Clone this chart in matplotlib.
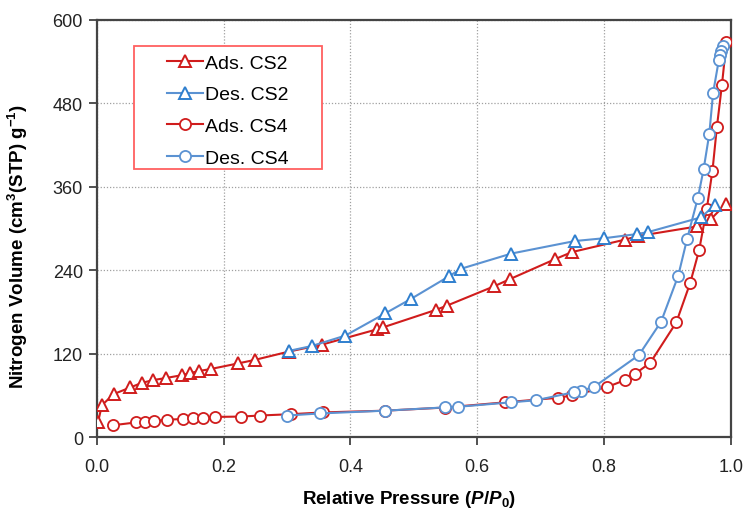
import matplotlib
matplotlib.use("Agg")
import matplotlib.pyplot as plt
from matplotlib.patches import Rectangle

plt.rcParams['font.family'] = ['Liberation Sans', 'DejaVu Sans']
plt.rcParams['mathtext.fontset'] = 'custom'
plt.rcParams['mathtext.rm'] = 'Liberation Sans:bold'
plt.rcParams['mathtext.it'] = 'Liberation Sans:italic:bold'
plt.rcParams['mathtext.bf'] = 'Liberation Sans:bold'

# Ads. CS2
ads_cs2_x = [0.002, 0.008, 0.027, 0.053, 0.071, 0.089, 0.109, 0.134, 0.147, 0.161,
             0.180, 0.223, 0.249, 0.303, 0.355, 0.442, 0.452, 0.535, 0.552, 0.627,
             0.651, 0.723, 0.749, 0.833, 0.853, 0.947, 0.969, 0.992]
ads_cs2_y = [22, 46, 62, 71.5, 78, 82, 85, 89, 92, 95,
             98, 106, 111, 123, 133, 155, 158, 183, 189, 217,
             227, 256, 266, 284, 289, 303, 314, 335]
# Des. CS2
des_cs2_x = [0.975, 0.953, 0.870, 0.852, 0.800, 0.754, 0.654, 0.574, 0.555, 0.496,
             0.455, 0.392, 0.339, 0.303]
des_cs2_y = [334, 316, 295, 292, 286, 282, 264, 242, 231, 199,
             178, 146, 131, 124]
# Ads. CS4
ads_cs4_x = [0.025, 0.061, 0.076, 0.090, 0.110, 0.136, 0.152, 0.168, 0.186, 0.227,
             0.257, 0.307, 0.357, 0.455, 0.549, 0.644, 0.727, 0.750, 0.805, 0.833,
             0.849, 0.873, 0.914, 0.936, 0.950, 0.962, 0.971, 0.978, 0.986, 0.993]
ads_cs4_y = [17, 21, 22, 23, 25, 26, 27, 27.5, 29, 29.5,
             31, 33, 35.5, 38, 42.5, 50, 56.5, 60, 72, 82,
             91, 107, 165, 222, 269, 328, 383, 446, 507, 568]
# Des. CS4
des_cs4_x = [0.988, 0.985, 0.983, 0.981, 0.972, 0.966, 0.957, 0.948, 0.931, 0.917,
             0.890, 0.855, 0.784, 0.763, 0.752, 0.693, 0.653, 0.570, 0.549, 0.455,
             0.352, 0.300]
des_cs4_y = [563, 556, 549, 542, 495, 436, 385, 344, 285, 232,
             166, 118, 72, 66.5, 64.5, 53, 50, 43.6, 42.7, 38,
             34, 31]

x_ticks = [0.0, 0.2, 0.4, 0.6, 0.8, 1.0]
y_ticks = [0, 120, 240, 360, 480, 600]

red = '#d01c1c'
blue_t = '#2f7fce'
blue_c = '#5b92d2'

fig = plt.figure(figsize=(7.45, 5.10), dpi=100)
ax = fig.add_axes([0.130, 0.141, 0.851, 0.818])

ax.plot(ads_cs2_x, ads_cs2_y, color=red, lw=1.5, marker='^', ms=8.5,
        mfc='white', mec=red, mew=1.4, label='Ads. CS2', zorder=3)
ax.plot(des_cs2_x, des_cs2_y, color=blue_c, lw=1.5, marker='^', ms=8.5,
        mfc='white', mec=blue_t, mew=1.4, label='Des. CS2', zorder=4)
ax.plot(ads_cs4_x, ads_cs4_y, color=red, lw=1.5, marker='o', ms=8,
        mfc='white', mec=red, mew=1.3, label='Ads. CS4', zorder=3)
ax.plot(des_cs4_x, des_cs4_y, color=blue_c, lw=1.5, marker='o', ms=8,
        mfc='white', mec=blue_c, mew=1.3, label='Des. CS4', zorder=4)

ax.set_xlim(0, 1.0)
ax.set_ylim(0, 600)
ax.set_xticks(x_ticks)
ax.set_xticklabels([f'{v:.1f}' for v in x_ticks])
ax.set_yticks(y_ticks)
ax.set_yticklabels([str(v) for v in y_ticks])
ax.tick_params(direction='out', length=6, width=1.2, labelsize=13, colors='#333333',
               labelcolor='#222222')
ax.tick_params(axis='x', pad=9)
ax.tick_params(axis='y', pad=4)
ax.grid(True, color='#a0a0a0', linestyle=(0, (1, 1.5)), linewidth=0.9)
ax.set_axisbelow(True)
for s in ax.spines.values():
    s.set_color('#444444')
    s.set_linewidth(1.6)

ax.set_xlabel(r'Relative Pressure ($P/P_{\mathrm{0}}$)', fontsize=13.5, fontweight='bold')
ax.set_ylabel(r'Nitrogen Volume (cm$^{\mathrm{3}}$(STP) g$^{\mathrm{-1}}$)', fontsize=13.5,
              fontweight='bold')
ax.xaxis.set_label_coords(0.492, -0.123)
ax.yaxis.set_label_coords(-0.106, 0.46)

leg = ax.legend(loc='upper left', bbox_to_anchor=(0.110, 0.918), fontsize=14,
                frameon=False, borderpad=0, handlelength=1.85,
                handletextpad=0.12, labelspacing=0.72, borderaxespad=0)
ax.add_patch(Rectangle((0.058, 0.643), 0.2965, 0.295, transform=ax.transAxes,
                       facecolor='white', edgecolor='#ff6060', linewidth=1.3,
                       zorder=5))
leg.set_zorder(6)

fig.savefig('out.png', dpi=100)
